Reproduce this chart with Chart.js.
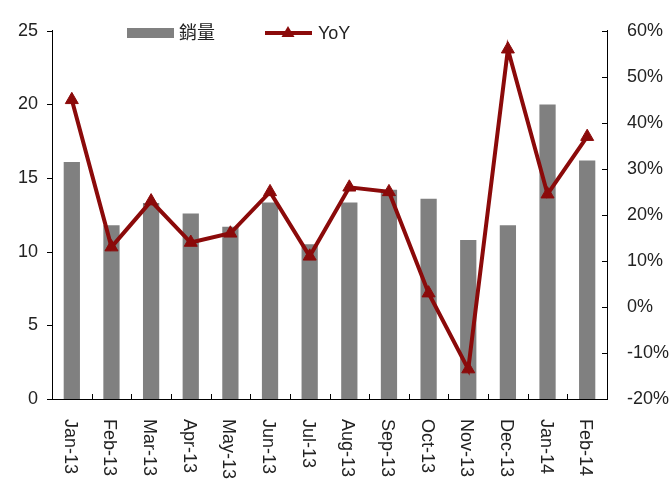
<!DOCTYPE html>
<html>
<head>
<meta charset="utf-8">
<script src="https://cdn.jsdelivr.net/npm/chart.js@4.4.0/dist/chart.umd.min.js"></script>
<style>
    html, body { margin: 0; padding: 0; background: #fff; }
    #wrap { width: 672px; height: 483px; }
</style>
</head>
<body>
<div id="wrap"><canvas id="chart"></canvas></div>
<script>
// Data
const months = ['Jan-13', 'Feb-13', 'Mar-13', 'Apr-13', 'May-13', 'Jun-13', 'Jul-13',
    'Aug-13', 'Sep-13', 'Oct-13', 'Nov-13', 'Dec-13', 'Jan-14', 'Feb-14'];
const sales = [16.1, 11.8, 13.3, 12.6, 11.7, 13.35, 10.5, 13.35, 14.2, 13.6, 10.8, 11.8, 20.0, 16.2];
const yoy = [45, 13, 23, 14, 16, 25, 11, 26, 25, 3, -13.5, 56, 24.5, 37];
const salesTicks = [0, 5, 10, 15, 20, 25];
const yoyTicks = [-20, -10, 0, 10, 20, 30, 40, 50, 60];

const FONT = '"Liberation Sans", Arial, "Noto Sans CJK TC", sans-serif';
const TEXT = '#222';
const BAR = '#808080';
const LINE = '#8b0a0a';

// Tick marks, rotated month labels and the legend are drawn by hand
const decorations = {
    id: 'decorations',
    afterDraw(chart) {
        const ctx = chart.ctx;
        const x = chart.scales.x;
        const y = chart.scales.y;
        const y1 = chart.scales.y1;
        const area = chart.chartArea;

        ctx.save();
        ctx.strokeStyle = '#000';
        ctx.lineWidth = 1;
        ctx.beginPath();
        // left ticks outward
        salesTicks.forEach(v => {
            const py = Math.round(y.getPixelForValue(v)) + 0.5;
            ctx.moveTo(area.left - 5, py);
            ctx.lineTo(area.left, py);
        });
        // right ticks inward
        yoyTicks.forEach(v => {
            const py = Math.round(y1.getPixelForValue(v)) + 0.5;
            ctx.moveTo(area.right - 5, py);
            ctx.lineTo(area.right, py);
        });
        // category ticks between bars, pointing up
        for (let i = 1; i < months.length; i++) {
            const px = Math.round((x.getPixelForValue(i - 1) + x.getPixelForValue(i)) / 2) + 0.5;
            ctx.moveTo(px, area.bottom);
            ctx.lineTo(px, area.bottom - 5);
        }
        ctx.stroke();

        // month labels, rotated clockwise
        ctx.fillStyle = TEXT;
        ctx.font = '18px ' + FONT;
        ctx.textAlign = 'left';
        ctx.textBaseline = 'middle';
        months.forEach((m, i) => {
            ctx.save();
            ctx.translate(x.getPixelForValue(i) - 2, area.bottom + 20);
            ctx.rotate(Math.PI / 2);
            ctx.fillText(m, 0, 0);
            ctx.restore();
        });

        // legend
        const ds = chart.data.datasets;
        ctx.fillStyle = BAR;
        ctx.fillRect(127, 28, 47, 10);
        ctx.fillStyle = TEXT;
        ctx.fillText(ds[1].label, 179, 34);

        ctx.strokeStyle = LINE;
        ctx.lineWidth = 4;
        ctx.beginPath();
        ctx.moveTo(265, 33);
        ctx.lineTo(312, 33);
        ctx.stroke();
        ctx.fillStyle = LINE;
        ctx.beginPath();
        ctx.moveTo(288, 26);
        ctx.lineTo(294.5, 37);
        ctx.lineTo(281.5, 37);
        ctx.closePath();
        ctx.fill();
        ctx.fillStyle = TEXT;
        ctx.fillText(ds[0].label, 318, 34);
        ctx.restore();
    }
};

const ctx = document.getElementById('chart').getContext('2d');

new Chart(ctx, {
    type: 'bar',
    data: {
        labels: months,
        datasets: [{
            type: 'line',
            label: 'YoY',
            data: yoy,
            yAxisID: 'y1',
            borderColor: LINE,
            backgroundColor: LINE,
            borderWidth: 4,
            pointStyle: 'triangle',
            pointRadius: 7.5,
            pointBorderWidth: 1,
            tension: 0,
            order: 0
        }, {
            type: 'bar',
            label: '銷量',
            data: sales,
            yAxisID: 'y',
            backgroundColor: BAR,
            barPercentage: 0.41,
            categoryPercentage: 1,
            order: 1
        }]
    },
    options: {
        responsive: true,
        maintainAspectRatio: false,
        animation: false,
        layout: { padding: { top: 17, bottom: 0, left: 0, right: 0 } },
        plugins: {
            legend: { display: false },
            tooltip: { enabled: false }
        },
        scales: {
            x: {
                grid: { display: false, drawTicks: false },
                border: { display: true, color: '#000', width: 1 },
                ticks: { display: false },
                afterFit: s => { s.height = 84; }
            },
            y: {
                position: 'left',
                min: 0,
                max: 25,
                afterBuildTicks: s => { s.ticks = salesTicks.map(v => ({ value: v })); },
                grid: { display: false, drawTicks: false },
                border: { display: true, color: '#000', width: 1 },
                ticks: {
                    color: TEXT,
                    font: { family: FONT, size: 18 },
                    padding: 14
                },
                afterFit: s => { s.width = 52; }
            },
            y1: {
                position: 'right',
                min: -20,
                max: 60,
                afterBuildTicks: s => { s.ticks = yoyTicks.map(v => ({ value: v })); },
                grid: { display: false, drawTicks: false },
                border: { display: true, color: '#000', width: 1 },
                ticks: {
                    color: TEXT,
                    font: { family: FONT, size: 18 },
                    padding: 20,
                    callback: v => v + '%'
                },
                afterFit: s => { s.width = 65; }
            }
        }
    },
    plugins: [decorations]
});
</script>
</body>
</html>
